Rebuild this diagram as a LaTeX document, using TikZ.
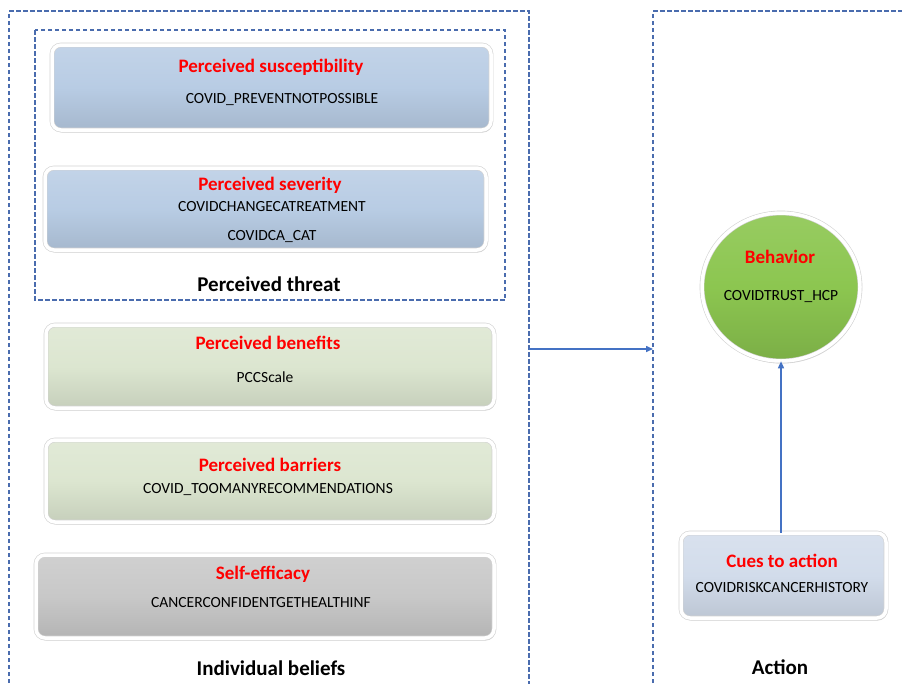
\documentclass[tikz,border=0pt]{standalone}
\usepackage{fontspec}
\setmainfont{Carlito}
\usetikzlibrary{shadows, shapes.geometric, arrows.meta}

\definecolor{dashblue}{HTML}{4A6CAE}
\definecolor{arrowblue}{HTML}{4472C4}
\definecolor{titlered}{HTML}{FF0000}
\definecolor{threatblue}{HTML}{B8CCE4}
\definecolor{beliefgreen}{HTML}{DCE6D0}
\definecolor{efficacygray}{HTML}{C8C8C8}
\definecolor{behavgreen}{HTML}{8CC650}
\definecolor{cuesblue}{HTML}{D2DCEB}

\newcommand{\varsize}{\fontsize{15.5}{18}\selectfont}
\newcommand{\ttlsize}{\fontsize{19}{22}\selectfont\bfseries}
\newcommand{\capsize}{\fontsize{21}{24}\selectfont\bfseries}

\begin{document}
\begin{tikzpicture}[x=1pt, y=-1pt,
    frame/.style={draw=dashblue, line width=1.2pt, dash pattern=on 4.5pt off 2.5pt},
    card/.style={rectangle, rounded corners=9pt, draw=gray!35, double=white,
        double distance=3.5pt, line width=0.6pt,
        drop shadow={shadow xshift=1pt, shadow yshift=-2.5pt, opacity=0.3, fill=gray}},
    bluecard/.style={card, top color=threatblue!85!white, bottom color=threatblue!90!black, middle color=threatblue},
    greencard/.style={card, top color=beliefgreen!85!white, bottom color=beliefgreen!90!black, middle color=beliefgreen},
    graycard/.style={card, top color=efficacygray!85!white, bottom color=efficacygray!90!black, middle color=efficacygray},
    cuescard/.style={card, top color=cuesblue!85!white, bottom color=cuesblue!90!black, middle color=cuesblue},
    ttl/.style={font=\ttlsize, text=titlered, inner sep=0pt},
    var/.style={font=\varsize, inner sep=0pt},
    caption/.style={font=\capsize, inner sep=0pt},
    link/.style={draw=arrowblue, line width=1.5pt, -{Triangle[length=7pt, width=6pt]}}
]
    \useasboundingbox (0,0) rectangle (902,683);

    % dashed frames
    \draw[frame] (9,690) -- (9,11) -- (529,11) -- (529,690);
    \draw[frame] (35,30) rectangle (505,300);
    \draw[frame] (653,690) -- (653,11) -- (910,11);

    % perceived threat
    \node[bluecard, minimum width=439pt, minimum height=85pt] (susc) at (271.5,87.5) {};
    \node[ttl] (suscT) at (271,67) {Perceived susceptibility};
    \node[var] (suscV) at (282,100) {COVID\_PREVENTNOTPOSSIBLE};

    \node[bluecard, minimum width=441pt, minimum height=82pt] (sev) at (265.5,209) {};
    \node[ttl] (sevT) at (270,185) {Perceived severity};
    \node[var] (sevV) at (272,207) {COVIDCHANGECATREATMENT};
    \node[var] (sevW) at (272,237) {COVIDCA\_CAT};

    \node[caption] (threat) at (269,284) {Perceived threat};

    % benefits, barriers, self-efficacy
    \node[greencard, minimum width=448pt, minimum height=83pt] (ben) at (270,366.5) {};
    \node[ttl] (benT) at (268,343) {Perceived benefits};
    \node[var] (benV) at (265,377) {PCCScale};

    \node[greencard, minimum width=448pt, minimum height=82pt] (bar) at (270,481) {};
    \node[ttl] (barT) at (270,465) {Perceived barriers};
    \node[var] (barV) at (268,490) {COVID\_TOOMANYRECOMMENDATIONS};

    \node[graycard, minimum width=458pt, minimum height=83pt] (self) at (265,596.5) {};
    \node[ttl] (selfT) at (263,574) {Self-efficacy};
    \node[var] (selfV) at (261,603) {CANCERCONFIDENTGETHEALTHINF};

    \node[caption] (beliefs) at (271,668) {Individual beliefs};

    % action side
    \node[ellipse, draw=gray!35, double=white, double distance=3.5pt, line width=0.6pt,
        top color=behavgreen!90!white, bottom color=behavgreen!88!black, middle color=behavgreen,
        drop shadow={shadow xshift=1pt, shadow yshift=-2.5pt, opacity=0.3, fill=gray},
        minimum width=158pt, minimum height=148pt] (behav) at (781,287) {};
    \node[ttl] (behavT) at (780,257) {Behavior};
    \node[var] (behavV) at (781,297) {COVIDTRUST\_HCP};

    \node[cuescard, minimum width=205pt, minimum height=85pt] (cues) at (783.5,575.5) {};
    \node[ttl] (cuesT) at (782,561) {Cues to action};
    \node[var] (cuesV) at (782,588) {COVIDRISKCANCERHISTORY};

    \node[caption] (action) at (780,667) {Action};

    % arrows
    \coordinate (beliefsE) at (529,349);
    \coordinate (actionW) at (653,349);
    \draw[link] (beliefsE) -- (actionW);
    \draw[link] (cues.north -| behav.south) -- (behav.south);
\end{tikzpicture}
\end{document}
